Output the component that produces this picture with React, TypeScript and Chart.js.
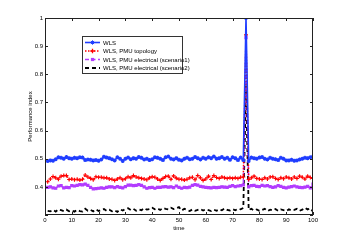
import React, { useEffect, useRef } from "react";
import { Chart, registerables } from "chart.js";

Chart.register(...registerables);

const wls = [
  0.492, 0.494, 0.493, 0.498, 0.505, 0.503, 0.5, 0.506, 0.502, 0.5,
  0.503, 0.502, 0.505, 0.504, 0.495, 0.497, 0.496, 0.494, 0.495, 0.493,
  0.497, 0.507, 0.504, 0.502, 0.498, 0.494, 0.505, 0.5, 0.492, 0.5,
  0.504, 0.498, 0.502, 0.5, 0.506, 0.503, 0.497, 0.5, 0.495, 0.498,
  0.505, 0.503, 0.5, 0.495, 0.505, 0.508, 0.5, 0.497, 0.502, 0.496,
  0.494, 0.5, 0.503, 0.498, 0.5, 0.506, 0.502, 0.497, 0.503, 0.5,
  0.505, 0.502, 0.508, 0.5, 0.502, 0.506, 0.5, 0.503, 0.496, 0.505,
  0.502, 0.495, 0.504, 0.495, 1.0, 0.492, 0.504, 0.502, 0.5, 0.504,
  0.506, 0.5, 0.497, 0.503, 0.5, 0.498, 0.495, 0.503, 0.5, 0.494,
  0.494, 0.496, 0.493, 0.494, 0.497, 0.5, 0.503, 0.502, 0.505, 0.508,
];

const pmuTopology = [
  0.418, 0.428, 0.437, 0.432, 0.427, 0.438, 0.44, 0.44, 0.426, 0.428,
  0.425, 0.427, 0.424, 0.427, 0.442, 0.435, 0.43, 0.425, 0.436, 0.434,
  0.434, 0.432, 0.432, 0.428, 0.427, 0.423, 0.428, 0.432, 0.425, 0.429,
  0.436, 0.432, 0.44, 0.435, 0.432, 0.43, 0.428, 0.425, 0.432, 0.436,
  0.434, 0.428, 0.423, 0.43, 0.437, 0.438, 0.427, 0.439, 0.431, 0.427,
  0.427, 0.424, 0.427, 0.432, 0.434, 0.425, 0.44, 0.432, 0.423, 0.428,
  0.438, 0.426, 0.44, 0.433, 0.43, 0.435, 0.432, 0.43, 0.432, 0.43,
  0.432, 0.43, 0.434, 0.435, 0.94, 0.426, 0.432, 0.438, 0.43, 0.428,
  0.426, 0.432, 0.428, 0.435, 0.436, 0.43, 0.426, 0.432, 0.429, 0.435,
  0.432, 0.428, 0.435, 0.43, 0.438, 0.434, 0.428, 0.438, 0.433, 0.43,
];

const pmuScenario1 = [
  0.398, 0.4, 0.396, 0.395, 0.403, 0.404, 0.396, 0.398, 0.397, 0.404,
  0.403, 0.405, 0.408, 0.407, 0.41, 0.405, 0.398, 0.393, 0.394, 0.395,
  0.396, 0.395, 0.398, 0.4, 0.4, 0.397, 0.401, 0.398, 0.396, 0.401,
  0.406, 0.406, 0.404, 0.405, 0.408, 0.405, 0.4, 0.395, 0.397, 0.398,
  0.395, 0.398, 0.398, 0.4, 0.401, 0.399, 0.4, 0.397, 0.403, 0.398,
  0.395, 0.398, 0.397, 0.399, 0.405, 0.408, 0.406, 0.402, 0.4, 0.398,
  0.397, 0.396, 0.398, 0.397, 0.398, 0.4, 0.399, 0.398, 0.402, 0.404,
  0.401, 0.403, 0.404, 0.407, 0.93, 0.4, 0.404, 0.405, 0.402, 0.401,
  0.405, 0.403, 0.404, 0.401, 0.398, 0.4, 0.404, 0.402, 0.398, 0.396,
  0.399, 0.401, 0.403, 0.4, 0.398, 0.397, 0.399, 0.402, 0.396, 0.41,
];

const pmuScenario2 = [
  0.315, 0.313, 0.318, 0.312, 0.32, 0.317, 0.314, 0.319, 0.313, 0.316,
  0.312, 0.318, 0.314, 0.312, 0.322, 0.315, 0.318, 0.313, 0.32, 0.314,
  0.318, 0.321, 0.315, 0.319, 0.313, 0.317, 0.311, 0.32, 0.316, 0.322,
  0.324, 0.318, 0.322, 0.315, 0.32, 0.317, 0.324, 0.319, 0.321, 0.326,
  0.32, 0.323, 0.318, 0.325, 0.322, 0.32, 0.326, 0.321, 0.324, 0.328,
  0.316, 0.322, 0.318, 0.314, 0.32, 0.315, 0.318, 0.321, 0.316, 0.32,
  0.317, 0.314, 0.319, 0.315, 0.32, 0.317, 0.323, 0.318, 0.316, 0.321,
  0.317, 0.322, 0.32, 0.325, 0.76, 0.318, 0.322, 0.316, 0.32, 0.315,
  0.318, 0.322, 0.314, 0.319, 0.316, 0.321, 0.315, 0.32, 0.317, 0.314,
  0.32, 0.316, 0.318, 0.322, 0.315, 0.319, 0.326, 0.32, 0.324, 0.312,
];

const seriesNames = [
  "WLS",
  "WLS, PMU topology",
  "WLS, PMU electrical (scenario1)",
  "WLS, PMU electrical (scenario2)",
];
const xTicks = [0, 10, 20, 30, 40, 50, 60, 70, 80, 90, 100];
const yTicks = [0.3, 0.4, 0.5, 0.6, 0.7, 0.8, 0.9, 1];
const xTitle = "time";
const yTitle = "Performance index";

const FONT = "'Liberation Sans', Arial, sans-serif";

const colors = ["#1f3dff", "#ff0000", "#b23cff", "#000000"];
const dashes = [[], [1.5, 1.5], [4, 2.5], [4, 3]];
const widths = [1.6, 1.5, 1.5, 1.8];
const styles: any[] = ["star", "cross", "rect", false];

const frame = {
  id: "frame",
  afterDraw(chart: any) {
    const { ctx, chartArea: a, scales } = chart;
    ctx.save();
    ctx.strokeStyle = "#222";
    ctx.lineWidth = 1;
    ctx.strokeRect(a.left + 0.5, a.top + 0.5, a.right - a.left - 1, a.bottom - a.top - 1);
    ctx.beginPath();
    for (const v of xTicks) {
      const x = Math.round(scales.x.getPixelForValue(v)) + 0.5;
      ctx.moveTo(x, a.bottom);
      ctx.lineTo(x, a.bottom - 3);
      ctx.moveTo(x, a.top);
      ctx.lineTo(x, a.top + 3);
    }
    for (const v of yTicks) {
      const y = Math.round(scales.y.getPixelForValue(v)) + 0.5;
      ctx.moveTo(a.left, y);
      ctx.lineTo(a.left + 3, y);
      ctx.moveTo(a.right, y);
      ctx.lineTo(a.right - 3, y);
    }
    ctx.stroke();

    // axis titles
    ctx.fillStyle = "#000";
    ctx.font = `6px ${FONT}`;
    ctx.textAlign = "center";
    ctx.textBaseline = "middle";
    ctx.fillText(xTitle, (a.left + a.right) / 2, 228);
    ctx.save();
    ctx.translate(30, (a.top + a.bottom) / 2);
    ctx.rotate(-Math.PI / 2);
    ctx.fillText(yTitle, 0, 0);
    ctx.restore();

    // legend
    const lx = 82, ly = 36, lw = 100, lh = 37;
    ctx.fillStyle = "#fff";
    ctx.fillRect(lx, ly, lw, lh);
    ctx.strokeStyle = "#333";
    ctx.strokeRect(lx + 0.5, ly + 0.5, lw, lh);
    const rows = [42.5, 51, 59.5, 68];
    seriesNames.forEach((name, i) => {
      const y = rows[i];
      ctx.save();
      ctx.strokeStyle = colors[i];
      ctx.lineWidth = widths[i];
      ctx.setLineDash(dashes[i]);
      ctx.beginPath();
      ctx.moveTo(85, y);
      ctx.lineTo(100, y);
      ctx.stroke();
      ctx.setLineDash([]);
      const cx = 92.5;
      ctx.fillStyle = colors[i];
      if (i === 0) {
        ctx.lineWidth = 1;
        ctx.beginPath();
        for (let k = 0; k < 4; k++) {
          const ang = (k * Math.PI) / 4;
          ctx.moveTo(cx - 2.2 * Math.cos(ang), y - 2.2 * Math.sin(ang));
          ctx.lineTo(cx + 2.2 * Math.cos(ang), y + 2.2 * Math.sin(ang));
        }
        ctx.stroke();
      } else if (i === 1) {
        ctx.lineWidth = 1.3;
        ctx.beginPath();
        ctx.moveTo(cx - 2.2, y);
        ctx.lineTo(cx + 2.2, y);
        ctx.moveTo(cx, y - 2.2);
        ctx.lineTo(cx, y + 2.2);
        ctx.stroke();
      } else if (i === 2) {
        ctx.fillRect(cx - 1.6, y - 1.6, 3.2, 3.2);
      }
      ctx.restore();
      ctx.fillStyle = "#000";
      ctx.textAlign = "left";
      ctx.font = `6px ${FONT}`;
      ctx.fillText(name, 103, y + 0.5);
    });
    ctx.restore();
  },
};

export default function App() {
  const ref = useRef<HTMLCanvasElement>(null);
  useEffect(() => {
    document.body.style.margin = "0";
    const all = [wls, pmuTopology, pmuScenario1, pmuScenario2];
    const chart = new Chart(ref.current!, {
      type: "line",
      data: {
        datasets: all.map((arr, i) => ({
          label: seriesNames[i],
          data: arr.map((y, k) => ({ x: k + 1, y })),
          borderColor: colors[i],
          backgroundColor: colors[i],
          borderWidth: widths[i],
          borderDash: dashes[i],
          pointStyle: styles[i],
          pointRadius: i === 3 ? 0 : i === 2 ? 1.5 : 2,
          pointBorderWidth: 1.1,
          pointBorderColor: colors[i],
          pointBackgroundColor: colors[i],
          tension: 0,
          fill: false,
        })),
      },
      options: {
        responsive: false,
        animation: false,
        layout: { padding: { left: 0, top: 18, right: 33, bottom: 0 } },
        plugins: { legend: { display: false }, tooltip: { enabled: false } },
        scales: {
          x: {
            type: "linear",
            min: 0,
            max: 100,
            afterBuildTicks: (s: any) => {
              s.ticks = xTicks.map((v) => ({ value: v }));
            },
            afterFit: (s: any) => {
              s.height = 27;
            },
            grid: { display: false, drawTicks: false },
            border: { display: false },
            ticks: {
              font: { family: FONT, size: 6 },
              color: "#000",
              padding: 2,
              maxRotation: 0,
              autoSkip: false,
            },
          },
          y: {
            type: "linear",
            min: 0.3,
            max: 1,
            afterBuildTicks: (s: any) => {
              s.ticks = yTicks.map((v) => ({ value: v }));
            },
            afterFit: (s: any) => {
              s.width = 45;
            },
            grid: { display: false, drawTicks: false },
            border: { display: false },
            ticks: {
              font: { family: FONT, size: 6 },
              color: "#000",
              padding: 2,
              autoSkip: false,
              callback: (v: any) => (v < 0.35 ? "" : String(Number(Number(v).toFixed(1)))),
            },
          },
        },
      },
      plugins: [frame],
    });
    return () => chart.destroy();
  }, []);
  return (
    <div style={{ position: "absolute", left: 0, top: 0, width: 346, height: 242, background: "#fff" }}>
      <canvas ref={ref} width={346} height={242} />
    </div>
  );
}
